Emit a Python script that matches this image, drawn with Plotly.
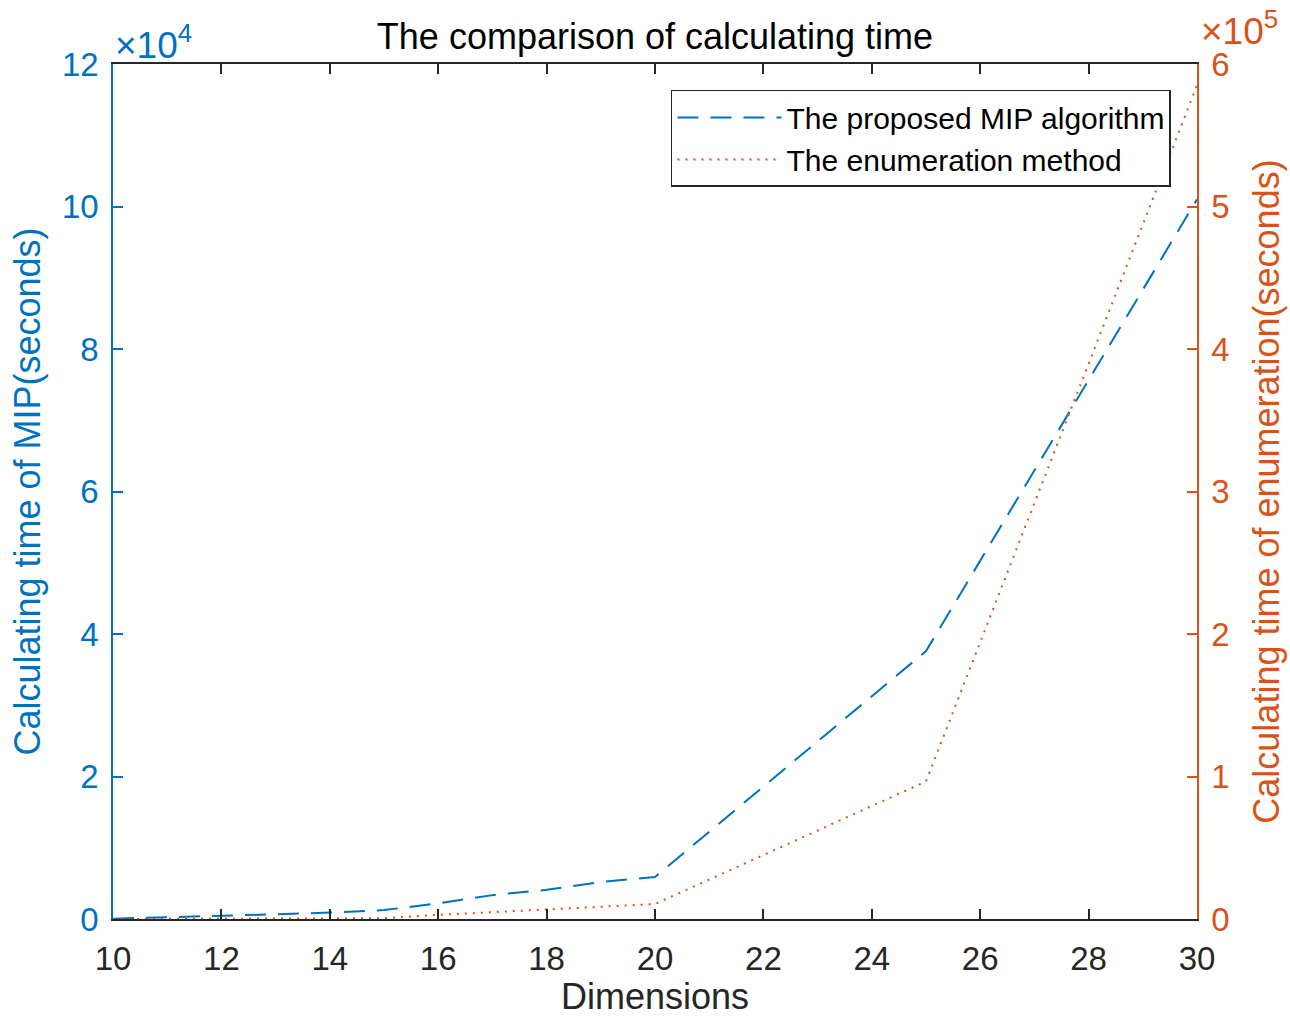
import plotly.graph_objects as go

# ---- data ----
dims = [10, 11, 12, 13, 14, 15, 16, 17, 18, 19, 20, 25, 30]
mip_time = [50, 220, 430, 660, 910, 1250, 2200, 3350, 4100, 5200, 5900, 37600, 101000]
enum_time = [0, 0, 20, 50, 150, 500, 2900, 4800, 6600, 8200, 10500, 96500, 585000]

x_ticks = [10, 12, 14, 16, 18, 20, 22, 24, 26, 28, 30]
left_ticks = [0, 20000, 40000, 60000, 80000, 100000, 120000]
left_tick_text = ["0", "2", "4", "6", "8", "10", "12"]
right_ticks = [0, 100000, 200000, 300000, 400000, 500000, 600000]
right_tick_text = ["0", "1", "2", "3", "4", "5", "6"]

BLUE = "#0072BD"
ORANGE = "#D95319"
DARK = "#262626"
FONT = "Liberation Sans, Arial, Helvetica, sans-serif"

fig = go.Figure()
fig.add_trace(go.Scatter(
    x=dims, y=mip_time, mode="lines", name="The proposed MIP algorithm",
    line=dict(color=BLUE, width=2, dash="21px,12px"), yaxis="y"))
fig.add_trace(go.Scatter(
    x=dims, y=enum_time, mode="lines", name="The enumeration method",
    line=dict(color=ORANGE, width=2, dash="2px,6px"), yaxis="y2"))

fig.update_layout(
    width=1290, height=1017,
    margin=dict(l=113, r=93, t=64, b=98, autoexpand=False),
    paper_bgcolor="white", plot_bgcolor="white",
    font=dict(family=FONT, size=33, color=DARK),
    title=dict(text="The comparison of calculating time", x=0.5, xref="paper",
               xanchor="center", y=1 - 36 / 1017, yref="container", yanchor="middle",
               font=dict(size=36, color="black")),
    xaxis=dict(range=[10, 30], tickvals=x_ticks, ticks="inside", ticklen=10, tickwidth=1.5,
               tickcolor=DARK, showline=True, linecolor=DARK, linewidth=1.5, mirror="ticks",
               showgrid=False, zeroline=False, tickfont=dict(size=33, color=DARK),
               ticklabelstandoff=10, automargin=True,
               title=dict(text="Dimensions", font=dict(size=36, color=DARK), standoff=6)),
    yaxis=dict(range=[0, 120000], tickvals=left_ticks, ticktext=left_tick_text,
               ticks="inside", ticklen=10, tickwidth=1.5, tickcolor=BLUE,
               showline=True, linecolor=BLUE, linewidth=1.5, showgrid=False, zeroline=False,
               tickfont=dict(size=33, color=BLUE), ticklabelstandoff=6, automargin=False,
               title=dict(text="Calculating time of MIP(seconds)",
                          font=dict(size=36, color=BLUE), standoff=10)),
    yaxis2=dict(range=[0, 600000], tickvals=right_ticks, ticktext=right_tick_text,
                overlaying="y", side="right", anchor="x",
                ticks="inside", ticklen=10, tickwidth=1.5, tickcolor=ORANGE,
                showline=True, linecolor=ORANGE, linewidth=1.5, showgrid=False, zeroline=False,
                tickfont=dict(size=33, color=ORANGE), ticklabelstandoff=6, automargin=False,
                title=dict(text="Calculating time of enumeration(seconds)",
                           font=dict(size=36, color=ORANGE), standoff=25)),
    legend=dict(x=0.976, y=0.9696, xanchor="right", yanchor="top",
                bgcolor="white", bordercolor=DARK, borderwidth=1.5,
                font=dict(size=30, color="black"), itemwidth=104,
                tracegroupgap=0),
    showlegend=True,
)

fig.add_annotation(text="\u00d710<sup>4</sup>", xref="paper", yref="paper",
                   x=0, y=1 + (64 - 43) / 855, xanchor="left", yanchor="middle",
                   showarrow=False, font=dict(size=37, color=BLUE))
fig.add_annotation(text="\u00d710<sup>5</sup>", xref="paper", yref="paper",
                   x=1 + 2 / 1084, y=1 + (64 - 28) / 855, xanchor="left", yanchor="middle",
                   showarrow=False, font=dict(size=37, color=ORANGE))

fig.write_html("out.html")
